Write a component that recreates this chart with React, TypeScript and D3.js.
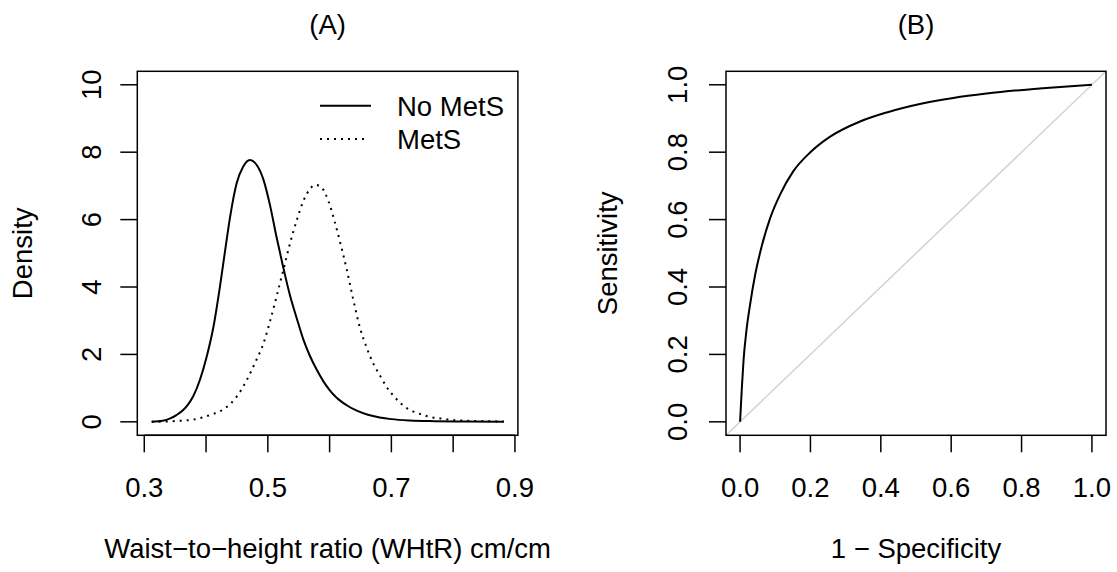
import React from "react";
import * as d3 from "d3";

// ---- Panel A data: density curves ----
const whtrNoMetS = [0.312, 0.33, 0.342, 0.352, 0.363, 0.371, 0.379, 0.39, 0.401, 0.412, 0.4225, 0.431, 0.439, 0.4495, 0.46, 0.471, 0.482, 0.493, 0.5035, 0.514, 0.525, 0.536, 0.547, 0.557, 0.568, 0.579, 0.59, 0.6, 0.611, 0.627, 0.644, 0.662, 0.681, 0.7, 0.73, 0.77, 0.82, 0.882];
const densNoMetS = [0.0, 0.03, 0.1, 0.2, 0.35, 0.52, 0.75, 1.24, 1.93, 2.82, 4.01, 5.1, 6.09, 7.08, 7.57, 7.77, 7.62, 7.18, 6.43, 5.49, 4.58, 3.74, 3.06, 2.47, 1.96, 1.55, 1.2, 0.94, 0.72, 0.5, 0.33, 0.21, 0.13, 0.08, 0.04, 0.02, 0.01, 0.0];

const whtrMetS = [0.312, 0.347, 0.38, 0.406, 0.428, 0.4495, 0.466, 0.479, 0.493, 0.5035, 0.514, 0.525, 0.536, 0.547, 0.557, 0.568, 0.5766, 0.587, 0.598, 0.609, 0.617, 0.628, 0.638, 0.649, 0.66, 0.671, 0.682, 0.692, 0.706, 0.714, 0.723, 0.733, 0.744, 0.755, 0.767, 0.779, 0.791, 0.803, 0.83, 0.882];
const densMetS = [0.0, 0.02, 0.07, 0.2, 0.37, 0.745, 1.24, 1.74, 2.33, 2.98, 3.71, 4.5, 5.3, 5.99, 6.53, 6.9, 7.03, 6.95, 6.55, 5.89, 5.33, 4.5, 3.65, 2.8, 2.2, 1.72, 1.36, 1.04, 0.72, 0.57, 0.43, 0.33, 0.25, 0.18, 0.13, 0.1, 0.07, 0.05, 0.03, 0.01];

const ticksA_x = [0.3, 0.4, 0.5, 0.6, 0.7, 0.8, 0.9];
const labelsA_x = ["0.3", "", "0.5", "", "0.7", "", "0.9"];
const ticksA_y = [0, 2, 4, 6, 8, 10];
const legendLabels = ["No MetS", "MetS"];

// ---- Panel B data: ROC curve ----
const rocFpr = [0, 0.005, 0.01, 0.018, 0.028, 0.043, 0.062, 0.085, 0.114, 0.151, 0.199, 0.256, 0.341, 0.417, 0.511, 0.606, 0.7, 0.795, 0.89, 1.0];
const rocTpr = [0, 0.1, 0.185, 0.27, 0.345, 0.437, 0.523, 0.603, 0.675, 0.743, 0.799, 0.846, 0.891, 0.918, 0.943, 0.961, 0.974, 0.984, 0.992, 1.0];
const ticksB = [0, 0.2, 0.4, 0.6, 0.8, 1.0];

const FONT = "'Liberation Sans', Arial, Helvetica, sans-serif";
const FS = 27.5;

export default function App() {
  // Panel A scales
  const xA = d3.scaleLinear().domain([0.2887, 0.9048]).range([137.3, 517.9]);
  const yA = d3.scaleLinear().domain([-0.4, 10.4]).range([435.3, 71.3]);
  // Panel B scales
  const xB = d3.scaleLinear().domain([-0.04, 1.04]).range([726, 1106]);
  const yB = d3.scaleLinear().domain([-0.04, 1.04]).range([435.3, 71.3]);

  const lineA = d3
    .line<[number, number]>()
    .x((d) => xA(d[0]))
    .y((d) => yA(d[1]))
    .curve(d3.curveMonotoneX);
  const lineB = d3
    .line<[number, number]>()
    .x((d) => xB(d[0]))
    .y((d) => yB(d[1]))
    .curve(d3.curveMonotoneX);

  const noMetS = whtrNoMetS.map((v, i) => [v, densNoMetS[i]] as [number, number]);
  const metS = whtrMetS.map((v, i) => [v, densMetS[i]] as [number, number]);
  const roc = rocFpr.map((v, i) => [v, rocTpr[i]] as [number, number]);

  const [ax0, ax1] = xA.range();
  const [ay0, ay1] = yA.range();
  const [bx0, bx1] = xB.range();
  const [by0, by1] = yB.range();
  const tickLen = 17;

  return (
    <svg
      width={1117}
      height={572}
      style={{ position: "absolute", left: 0, top: 0, background: "#fff" }}
      fontFamily={FONT}
      fontSize={FS}
    >
      <rect x={0} y={0} width={1117} height={572} fill="#fff" />

      {/* ===== Panel A ===== */}
      <text x={(ax0 + ax1) / 2} y={34} textAnchor="middle">(A)</text>
      <rect x={ax0} y={ay1} width={ax1 - ax0} height={ay0 - ay1} fill="none" stroke="#000" strokeWidth={1.5} />
      <line x1={xA(ticksA_x[0])} x2={xA(ticksA_x[ticksA_x.length - 1])} y1={ay0} y2={ay0} stroke="#000" strokeWidth={1.5} />
      {ticksA_x.map((t, i) => (
        <g key={"ax" + i}>
          <line x1={xA(t)} x2={xA(t)} y1={ay0} y2={ay0 + tickLen} stroke="#000" strokeWidth={1.5} />
          {labelsA_x[i] && (
            <text x={xA(t)} y={497} textAnchor="middle">{labelsA_x[i]}</text>
          )}
        </g>
      ))}
      {ticksA_y.map((t, i) => (
        <g key={"ay" + i}>
          <line x1={ax0 - tickLen} x2={ax0} y1={yA(t)} y2={yA(t)} stroke="#000" strokeWidth={1.5} />
          <text transform={`translate(101,${yA(t)}) rotate(-90)`} textAnchor="middle">{String(t)}</text>
        </g>
      ))}
      <text x={(ax0 + ax1) / 2} y={558} textAnchor="middle">Waist−to−height ratio (WHtR) cm/cm</text>
      <text transform={`translate(32,${(ay0 + ay1) / 2}) rotate(-90)`} textAnchor="middle">Density</text>

      <path d={lineA(noMetS) || ""} fill="none" stroke="#000" strokeWidth={2} />
      <path d={lineA(metS) || ""} fill="none" stroke="#000" strokeWidth={2} strokeDasharray="2 5" />

      {/* legend */}
      <line x1={320} x2={371} y1={105.7} y2={105.7} stroke="#000" strokeWidth={2} />
      <line x1={320} x2={366} y1={139} y2={139} stroke="#000" strokeWidth={2} strokeDasharray="2 5" />
      <text x={397} y={116}>{legendLabels[0]}</text>
      <text x={397} y={149}>{legendLabels[1]}</text>

      {/* ===== Panel B ===== */}
      <text x={(bx0 + bx1) / 2} y={34} textAnchor="middle">(B)</text>
      <line x1={bx0} y1={by0} x2={bx1} y2={by1} stroke="#d3d3d3" strokeWidth={1.5} />
      <path d={lineB(roc) || ""} fill="none" stroke="#000" strokeWidth={2} />
      <rect x={bx0} y={by1} width={bx1 - bx0} height={by0 - by1} fill="none" stroke="#000" strokeWidth={1.5} />
      {ticksB.map((t, i) => (
        <g key={"bx" + i}>
          <line x1={xB(t)} x2={xB(t)} y1={by0} y2={by0 + tickLen} stroke="#000" strokeWidth={1.5} />
          <text x={xB(t)} y={497} textAnchor="middle">{t.toFixed(1)}</text>
        </g>
      ))}
      {ticksB.map((t, i) => (
        <g key={"by" + i}>
          <line x1={bx0 - tickLen} x2={bx0} y1={yB(t)} y2={yB(t)} stroke="#000" strokeWidth={1.5} />
          <text transform={`translate(687,${yB(t)}) rotate(-90)`} textAnchor="middle">{t.toFixed(1)}</text>
        </g>
      ))}
      <text x={(bx0 + bx1) / 2} y={558} textAnchor="middle">1 − Specificity</text>
      <text transform={`translate(617,${(by0 + by1) / 2}) rotate(-90)`} textAnchor="middle">Sensitivity</text>
    </svg>
  );
}
